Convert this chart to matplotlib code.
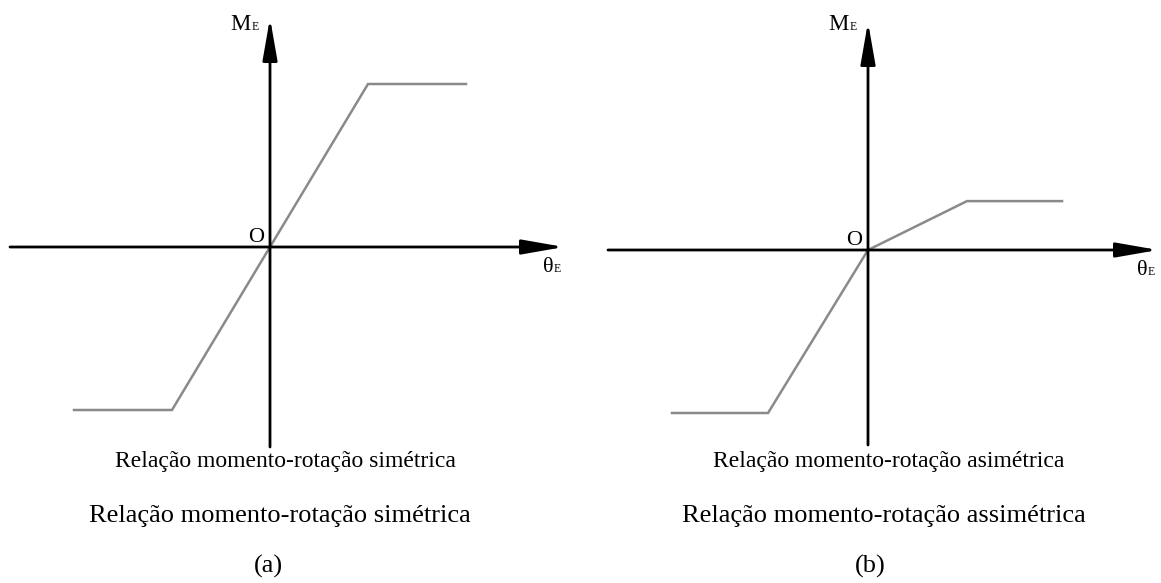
#Moment-rotation relation, symmetric (a) and asymmetric (b)
import numpy as np
import matplotlib.pyplot as plt

plt.rcParams['font.family'] = ['Liberation Serif', 'DejaVu Serif']

#Data (theta in units of the yield rotation, M in units of the yield moment)
theta_a = [-2.0, -1.0, 1.0, 2.0]
moment_a = [-1.0, -1.0, 1.0, 1.0]
theta_b = [-2.0, -1.02, 0.0, 1.01, 1.98]
moment_b = [-1.0, -1.0, 0.0, 0.3, 0.3]

caption_small = ["Relação momento-rotação simétrica", "Relação momento-rotação asimétrica"]
caption_big = ["Relação momento-rotação simétrica", "Relação momento-rotação assimétrica"]
panel_tags = ["(a)", "(b)"]

W, H = 1161, 583
fig = plt.figure(figsize=(W / 100, H / 100), dpi=100)

#pixels per unit
sx, sy = 98.0, 163.0

def px(x, y):
    return x / W, 1 - y / H

def panel(left, right, ox, oy, x0, x1, ytop, ybot, th, mo, cap_s, cap_b, tag, cx):
    ax = fig.add_axes([left / W, 0, (right - left) / W, 1])
    ax.set_xlim((left - ox) / sx, (right - ox) / sx)
    ax.set_ylim(-(H - oy) / sy, oy / sy)
    ax.axis('off')
    arrow = dict(arrowstyle='-|>,head_length=1.6,head_width=0.28', mutation_scale=16,
                 lw=2, color='black', shrinkA=0, shrinkB=0)
    #horizontal axis
    ax.annotate('', xy=((x1 - ox) / sx, 0), xytext=((x0 - ox) / sx, 0), arrowprops=arrow)
    #vertical axis
    ax.annotate('', xy=(0, (oy - ytop) / sy), xytext=(0, (oy - ybot) / sy), arrowprops=arrow)
    ax.plot(th, mo, color='#8a8a8a', lw=1.8, solid_joinstyle='miter')
    #labels
    fig.text(*px(ox - 14, oy - 5), "O", fontsize=16, ha='center', va='baseline')
    fig.text(*px(ox - 40, 30), "M", fontsize=16.5, ha='left', va='baseline')
    fig.text(*px(ox - 18.5, 30), "E", fontsize=8.5, ha='left', va='baseline')
    fig.text(*px(x1 - 21, oy + 25), "θ", fontsize=16, ha='left', va='baseline')
    fig.text(*px(x1 - 10, oy + 25), "E", fontsize=8.5, ha='left', va='baseline')
    fig.text(*px(cx[0], 467), cap_s, fontsize=17, ha='center', va='baseline')
    fig.text(*px(cx[1], 522), cap_b, fontsize=19, ha='center', va='baseline')
    fig.text(*px(cx[2], 573), tag, fontsize=19, ha='center', va='baseline')
    return ax

panel(0, 580, 270, 247, 10, 564, 18, 447, theta_a, moment_a,
      caption_small[0], caption_big[0], panel_tags[0], (285, 280, 268))
panel(580, 1161, 868, 250, 608, 1158, 22, 445, theta_b, moment_b,
      caption_small[1], caption_big[1], panel_tags[1], (889, 884, 870))

fig.savefig("out.png", dpi=100)
